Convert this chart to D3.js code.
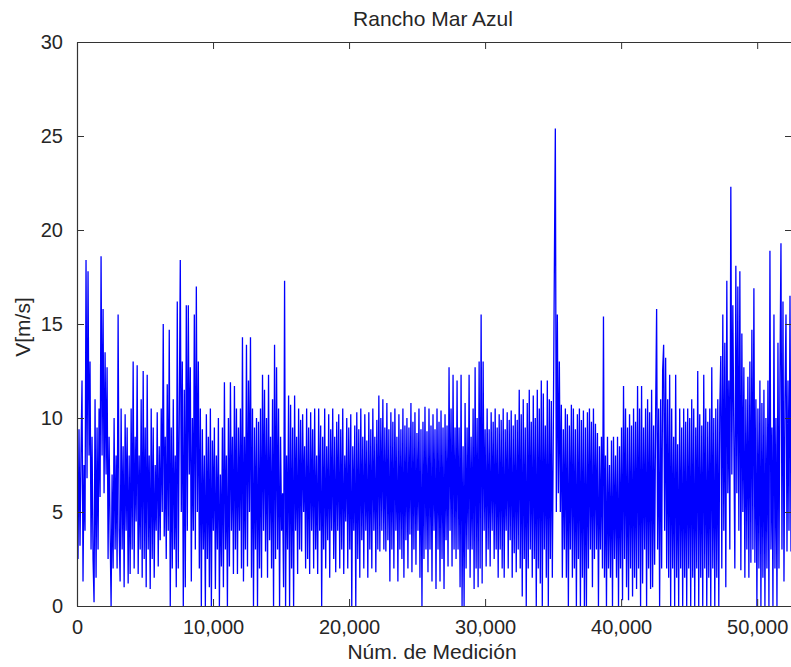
<!DOCTYPE html>
<html>
<head>
<meta charset="utf-8">
<script src="https://cdn.jsdelivr.net/npm/d3@7"></script>
<style>
  html, body { margin: 0; padding: 0; background: #fff; }
  svg { display: block; }
  text { font-family: "Liberation Sans", Arial, Helvetica, sans-serif; fill: #262626; }
</style>
</head>
<body>
<svg id="chart" width="791" height="667"></svg>
<script>
// ---- data (~1 value per pixel column) ----
const title = "Rancho Mar Azul";
const xLabel = "Núm. de Medición";
const yLabel = "V[m/s]";
const xMax = 52560;
const xTicks = [0, 10000, 20000, 30000, 40000, 50000];
const yTicks = [0, 5, 10, 15, 20, 25, 30];
const speed = [
  6.5, 2.5, 9.4, 3.2, 8.1, 12, 1.3, 7.5, 4, 18.4,
  6.8, 17.8, 8, 13, 3, 9, 2.5, 0.2, 11, 1.5,
  9.5, 3, 10.5, 5.8, 18.6, 8, 15.8, 6, 13.5, 7,
  12.7, 2.5, 9, 4, 0, 7, 2, 10, 3, 8,
  2, 15.5, 4, 1.3, 10.5, 3, 8.5, 1, 10.2, 4,
  9.5, 1.2, 8, 1.7, 10.5, 3, 13, 2, 9, 4.5,
  12.8, 1.7, 8, 3, 11, 1.5, 12.5, 2.5, 9.5, 1,
  12.3, 3, 8, 0.9, 10.5, 2.5, 9.5, 1.5, 7.5, 4,
  10.3, 2.1, 8.5, 3.5, 10.5, 5, 15, 3.7, 9, 2.5,
  11.8, 4, 14.7, 0, 9.5, 2, 11, 3, 8, 1,
  16.2, 2, 10, 18.4, 5, 13, 0, 11.5, 1, 16,
  4, 16, 7, 12.7, 1.3, 10, 4, 15.5, 3, 17,
  5, 13, 2, 10.5, 0, 9.4, 3, 8, 0, 10.2,
  2.5, 9, 1, 10.5, 0, 8.8, 4, 9.5, 0.9, 8,
  3, 10, 0, 7, 2.1, 9.5, 1, 11.9, 3, 8,
  0, 10, 2.1, 11.9, 4, 9, 1.7, 11.7, 3, 10.5,
  1.7, 9.5, 4, 10.5, 2, 14.3, 1.3, 9, 3, 13.9,
  2.1, 12, 5, 14.3, 1.5, 10.5, 0, 9.5, 3, 10,
  0, 9.8, 2, 10.5, 1.5, 12.3, 4, 11.5, 2.9, 10,
  1.5, 12.3, 3.5, 9, 2, 11, 0, 13.9, 2.5, 12.7,
  3, 10.5, 0, 9, 4, 6, 1, 17.3, 0, 8,
  3, 11.2, 0, 10.7, 2, 9.5, 0, 11.2, 4, 9,
  1.7, 10.5, 3, 9.9, 2.9, 10.2, 5, 8.5, 2, 10.5,
  2.5, 9.5, 1.7, 10.3, 4, 9.4, 2, 10.5, 3, 8,
  1.7, 10.5, 4, 9.6, 0, 9, 3, 10.5, 2, 8.5,
  3.5, 10.2, 1.5, 9.4, 4, 10.5, 2.5, 9, 1.8, 9.8,
  4, 10.2, 2, 9.4, 3, 10.5, 1.7, 8, 4.5, 10,
  2, 9.5, 3, 10.2, 0, 8.5, 4, 9.6, 0, 10.3,
  2.5, 9.4, 1.5, 10.5, 3.5, 9, 2, 10.2, 4, 8.8,
  1.5, 10.3, 3, 9.4, 2, 10.5, 4, 9, 1.8, 9.9,
  3, 11.2, 2.9, 10, 4, 11, 3, 9.5, 2.9, 10.8,
  3.5, 9.4, 1.3, 10.3, 3, 9.8, 2, 10.5, 4, 9,
  1.3, 10.2, 3, 9.4, 2.5, 10.5, 1.5, 9.6, 3.5, 10,
  2, 9.5, 3.8, 10.8, 1.8, 9.8, 3, 10.3, 2.2, 9.2,
  4, 10.5, 1.5, 9.4, 0, 9.8, 2.5, 10.6, 3, 9.3,
  1.8, 10.5, 3, 9.6, 1.3, 10.2, 4, 9.4, 0.9, 10.5,
  3, 9.8, 1.3, 10.4, 2.5, 9.5, 0.9, 10.2, 3.5, 9.6,
  2.1, 12.7, 4, 10.5, 2.1, 12.3, 3, 9.5, 2.5, 12,
  3, 9.5, 1, 12.3, 0, 8.5, 0, 10.8, 2, 9.5,
  3, 12.3, 1.5, 9, 3, 10.5, 0.9, 12.7, 2, 10,
  1, 13, 2, 15.5, 1.2, 13, 4, 9.4, 2.1, 10.5,
  3, 9.4, 2.1, 10.3, 4, 9.8, 2.5, 10.5, 3, 9.5,
  1.5, 10.2, 3, 9.9, 2, 10.5, 1.5, 9.4, 4, 10.3,
  2, 9.9, 3.5, 10.4, 1.5, 9.6, 2.8, 10.2, 1.8, 9.9,
  3, 11.5, 2, 10.2, 0.5, 11, 2.5, 9.5, 0, 10.8,
  2, 11.5, 3, 9.8, 1.5, 11.2, 2.5, 10, 0, 11.5,
  2, 10.5, 1.2, 12, 0, 11.3, 3, 9.6, 1.5, 12,
  0, 11, 2.5, 10.9, 1.5, 9.5, 17.8, 25.4, 5, 15.5,
  6, 13, 5, 10.7, 1.5, 9.4, 3, 10.5, 1.5, 10.2,
  0, 9.6, 3, 10.7, 1.5, 10.5, 2, 9.4, 0, 10.2,
  2.5, 10.5, 0, 9.9, 1.5, 10.4, 0, 9.5, 0, 10.3,
  2, 10.5, 3, 9.8, 1, 10.5, 2.5, 9.7, 3, 9.2,
  0, 8.5, 3, 9, 2, 15.4, 1.5, 8, 0, 9,
  2, 7.5, 1.5, 8.8, 0, 9, 2.5, 8, 1.5, 9,
  0, 8.5, 2, 9.5, 0.3, 11.7, 2.5, 10.5, 1, 9.5,
  0.3, 10.2, 2, 9.6, 0.5, 10.5, 1.5, 9.8, 0.9, 11.7,
  2, 10.5, 0, 11.7, 1.2, 9.5, 3, 10.5, 0, 11,
  2, 10.3, 0.9, 11.5, 1, 9.6, 2.2, 10.2, 15.8, 3,
  10.5, 0, 11, 2, 12.5, 13.9, 4, 13.2, 2, 11,
  1.5, 12.3, 0, 10.5, 2, 9, 0, 12.3, 1.5, 8.6,
  0, 10.5, 2, 9.5, 0, 10.5, 1.5, 9.8, 0, 10.5,
  2, 10, 0, 11, 1.5, 10.5, 0, 9.5, 2, 12.5,
  0, 10.2, 1.5, 9.6, 0, 12.3, 2, 10.5, 0, 9.8,
  1.5, 10.5, 0, 12.7, 2, 10, 0, 10.5, 1.5, 11,
  0, 10.5, 13.3, 2, 15.5, 4, 14, 1, 17.3, 6,
  12, 3, 22.3, 7, 16, 9, 2, 18.1, 6, 17,
  4, 17.8, 1.9, 14.5, 5, 12.7, 1.5, 11, 3, 12.2,
  1.5, 13, 2.3, 14.7, 3, 16.9, 2.3, 11, 0, 10.5,
  2, 12, 0, 10.8, 1.5, 11.5, 0, 10, 2, 12,
  0, 18.9, 3, 9.5, 0, 15.5, 2, 10, 0, 14,
  2, 12.3, 19.3, 3, 16.2, 1.3, 11, 15.5, 2.9, 12,
  4, 16.5, 2.9, 15
];

// ---- layout ----
const svg = d3.select("#chart");
const plotL = 77, plotR = 792, plotT = 42, plotB = 606;
const tickLen = 7;
const axisColor = "#333";

const x = d3.scaleLinear().domain([0, xMax]).range([plotL, plotR]);
const y = d3.scaleLinear().domain([0, 30]).range([plotB, plotT]);
const step = xMax / (speed.length - 1);

// clip
svg.append("clipPath").attr("id", "clip")
  .append("rect").attr("x", plotL).attr("y", plotT)
  .attr("width", plotR - plotL).attr("height", plotB - plotT);

// series
const line = d3.line().x((d, i) => x(i * step)).y(d => y(d));
svg.append("path")
  .datum(speed)
  .attr("clip-path", "url(#clip)")
  .attr("fill", "none")
  .attr("stroke", "#0000ff")
  .attr("stroke-width", 1.3)
  .attr("stroke-linejoin", "miter")
  .attr("stroke-miterlimit", 2)
  .attr("d", line);

// axes (MATLAB-style box, inward ticks)
const fmt = d3.format(",");
const bottomAxis = d3.axisBottom(x).tickValues(xTicks).tickFormat(fmt)
  .tickSizeInner(-tickLen).tickSizeOuter(0).tickPadding(14);
const topAxis = d3.axisTop(x).tickValues(xTicks).tickFormat("")
  .tickSizeInner(-tickLen).tickSizeOuter(0);
const leftAxis = d3.axisLeft(y).tickValues(yTicks).tickFormat(d3.format("d"))
  .tickSizeInner(-tickLen).tickSizeOuter(0).tickPadding(14);
const rightAxis = d3.axisRight(y).tickValues(yTicks).tickFormat("")
  .tickSizeInner(-tickLen).tickSizeOuter(0);

function style(g) {
  g.select(".domain").attr("stroke", axisColor).attr("stroke-width", 1.2);
  g.selectAll(".tick line").attr("stroke", axisColor).attr("stroke-width", 1);
  g.selectAll(".tick text").attr("fill", "#262626")
    .style("font-size", "20px")
    .style("font-family", "'Liberation Sans', Arial, sans-serif");
  g.attr("font-family", null).attr("font-size", null);
}

svg.append("g").attr("transform", `translate(0,${plotB})`).call(bottomAxis).call(style);
svg.append("g").attr("transform", `translate(0,${plotT})`).call(topAxis).call(style);
svg.append("g").attr("transform", `translate(${plotL},0)`).call(leftAxis).call(style);
svg.append("g").attr("transform", `translate(${plotR},0)`).call(rightAxis).call(style);

// titles
svg.append("text")
  .attr("x", 433).attr("y", 26)
  .attr("text-anchor", "middle")
  .style("font-size", "21px")
  .text(title);

svg.append("text")
  .attr("x", 432).attr("y", 659)
  .attr("text-anchor", "middle")
  .style("font-size", "21px")
  .text(xLabel);

svg.append("text")
  .attr("transform", "translate(30,327) rotate(-90)")
  .attr("text-anchor", "middle")
  .style("font-size", "21px")
  .text(yLabel);
</script>
</body>
</html>
